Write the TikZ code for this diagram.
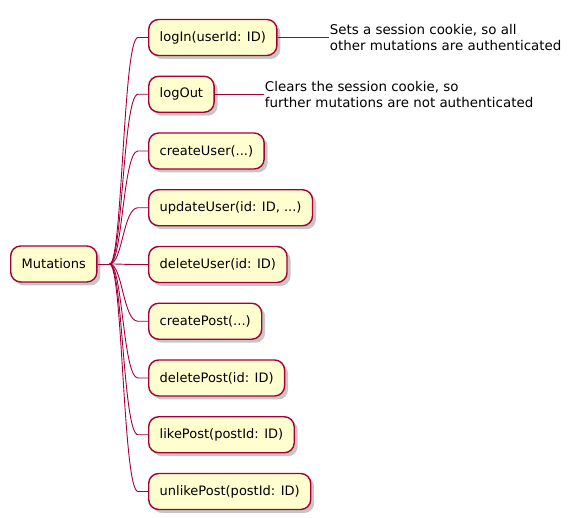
\documentclass[tikz,border=0pt]{standalone}
\usepackage{fontspec}
\setmainfont{DejaVu Sans}
\usetikzlibrary{shadows}
\definecolor{mapline}{HTML}{A80036}
\definecolor{mapfill}{HTML}{FEFECE}
\tikzset{
  topic/.style={draw=mapline, fill=mapfill, line width=1.4pt, rounded corners=10pt,
    minimum height=36pt, inner xsep=11pt, inner ysep=0pt, anchor=west,
    font=\fontsize{13}{16}\selectfont,
    drop shadow={shadow xshift=3.5pt, shadow yshift=-3.5pt, fill=black, opacity=0.22}},
  note/.style={anchor=west, align=left, inner sep=1pt, font=\fontsize{13.4}{16}\selectfont},
  branch/.style={draw=mapline, line width=0.9pt}
}
\begin{document}
\begin{tikzpicture}[x=1pt, y=-1pt]
    \useasboundingbox (0,0) rectangle (576,518);
    \node[topic] (root) at (10,264) {Mutations};
    \coordinate (fork) at ([xshift=12pt]root.east);
    \draw[branch] (root.east) -- (fork);
    % one branch for each mutation
    \foreach \name/\txt [count=\i from 0] in {login/{logIn(userId: ID)}, logout/logOut,
        createuser/{createUser(...)}, updateuser/{updateUser(id: ID, ...)},
        deleteuser/{deleteUser(id: ID)}, createpost/{createPost(...)},
        deletepost/{deletePost(id: ID)}, likepost/{likePost(postId: ID)},
        unlikepost/{unlikePost(postId: ID)}} {
      \node[topic] (\name) at (148,{37.5+56.75*\i}) {\txt};
      \draw[branch] (fork) .. controls +(13,0) and +(-15,0) .. ([xshift=-10pt]\name.west) -- (\name.west);
    }
    % notes
    \node[note] (loginnote) at ([xshift=51pt]login.east) {Sets a session cookie, so all\\other mutations are authenticated};
    \node[note] (logoutnote) at ([xshift=49pt]logout.east) {Clears the session cookie, so\\further mutations are not authenticated};
    \draw[branch] (login.east) -- (loginnote.west);
    \draw[branch] (logout.east) -- (logoutnote.west);
\end{tikzpicture}
\end{document}
